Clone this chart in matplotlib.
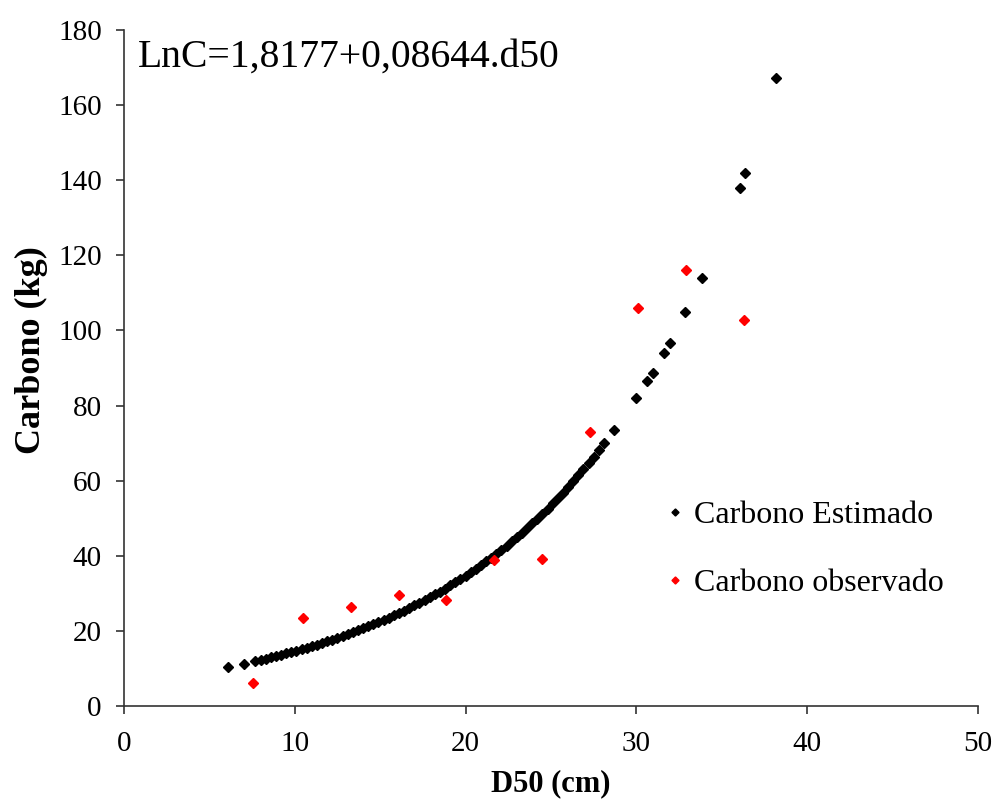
import matplotlib
matplotlib.use("Agg")
import matplotlib.pyplot as plt

plt.rcParams['font.family'] = ['Liberation Serif', 'DejaVu Serif']

# Carbono estimado (modelo LnC = 1,8177 + 0,08644.d50)
d50_est = [6.1, 7.05,
           7.7, 8.0, 8.3, 8.6, 8.9, 9.2, 9.5, 9.8, 10.1, 10.4, 10.7, 11.0,
           11.3, 11.6, 11.9, 12.2, 12.5, 12.8, 13.1, 13.4, 13.7, 14.0, 14.3,
           14.6, 14.9, 15.2, 15.5, 15.8, 16.1, 16.4, 16.7, 17.0, 17.3, 17.6,
           17.9, 18.2, 18.5, 18.8, 19.1, 19.4, 19.7, 20.0, 20.3, 20.6, 20.9,
           21.2, 21.5, 21.8, 22.1, 22.4, 22.7, 23.0, 23.3, 23.6, 23.9, 24.2,
           24.5, 24.8, 25.1, 25.4, 25.7, 26.0, 26.3, 26.6, 26.9, 27.2, 27.5,
           27.8, 28.1,
           28.7, 30.0, 30.65, 30.95, 31.6, 31.95, 32.85, 33.85, 36.05, 36.35, 38.2]
carb_est = [10.4, 11.3,
            11.98, 12.30, 12.62, 12.95, 13.29, 13.64, 14.00, 14.37, 14.74, 15.13,
            15.53, 15.94, 16.36, 16.79, 17.23, 17.68, 18.14, 18.62, 19.11, 19.61,
            20.13, 20.66, 21.20, 21.76, 22.33, 22.91, 23.51, 24.13, 24.77, 25.42,
            26.09, 26.77, 27.48, 28.20, 28.94, 29.70, 30.48, 31.28, 32.10, 32.95,
            33.81, 34.70, 35.61, 36.55, 37.51, 38.50, 39.51, 40.55, 41.61, 42.70,
            43.83, 44.98, 46.16, 47.37, 48.62, 49.89, 51.20, 52.55, 53.93, 55.35,
            56.80, 58.29, 59.82, 61.40, 63.01, 64.66, 66.36, 68.11, 69.90,
            73.5, 81.9, 86.5, 88.8, 93.9, 96.6, 104.8, 113.9, 138.0, 141.8, 167.3]

# Carbono observado
d50_obs = [7.56, 10.48, 13.27, 16.08, 18.87, 21.68, 24.49, 27.28, 30.1, 32.9, 36.3]
carb_obs = [6.0, 23.3, 26.3, 29.6, 28.2, 38.8, 39.1, 72.9, 105.9, 116.1, 102.8]

fig = plt.figure(figsize=(9.95, 8.02), dpi=100)
ax = fig.add_axes([0.1246, 0.1197, 0.8583, 0.8429])

ax.plot(d50_est, carb_est, linestyle='none', marker='D', markersize=5.5,
        color='black', label='Carbono Estimado')
ax.plot(d50_obs, carb_obs, linestyle='none', marker='D', markersize=5.5,
        color='#ff0000', label='Carbono observado')

ax.set_xlim(0, 50)
ax.set_ylim(0, 180)
ax.set_xticks(range(0, 51, 10))
ax.set_yticks(range(0, 181, 20))
ax.spines['top'].set_visible(False)
ax.spines['right'].set_visible(False)
for s in ('left', 'bottom'):
    ax.spines[s].set_color('#333333')
    ax.spines[s].set_linewidth(1.2)
ax.tick_params(direction='out', length=6, width=1.2, colors='#333333',
               labelcolor='black', labelsize=21)
ax.tick_params(axis='x', pad=12)
ax.tick_params(axis='y', pad=10)

ax.set_xlabel('D50 (cm)', fontsize=22, fontweight='bold', labelpad=9)
ax.set_ylabel('Carbono (kg)', fontsize=26, fontweight='bold')
ax.yaxis.set_label_coords(-0.089, 0.527)

ax.text(0.016, 0.96, 'LnC=1,8177+0,08644.d50', transform=ax.transAxes,
        fontsize=28.5, va='center', ha='left')

ax.legend(loc='center left', bbox_to_anchor=(0.6, 0.232), frameon=False,
          fontsize=23, markerscale=0.65, handlelength=0.6, handletextpad=0.3,
          labelspacing=1.2)

fig.savefig('out.png', dpi=100)
